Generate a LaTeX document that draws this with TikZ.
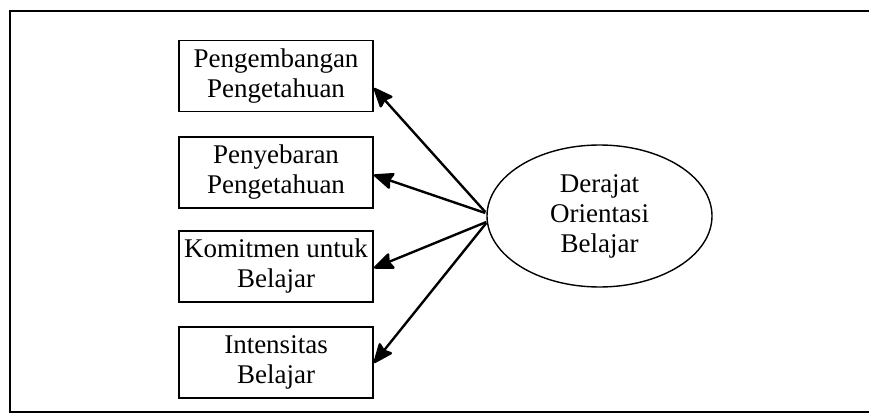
\documentclass[tikz,border=0pt]{standalone}
\usepackage{fontspec}
\setmainfont{Liberation Serif}
\usetikzlibrary{arrows.meta,calc,shapes.geometric}
\begin{document}
\begin{tikzpicture}[x=1pt,y=-1pt,
  every node/.style={font=\fontsize{27}{30}\selectfont, align=center},
  item/.style={draw, line width=1.8pt, minimum width=194pt, minimum height=71pt, inner sep=0pt},
  latent/.style={draw, ellipse, line width=1.4pt, minimum width=225pt, minimum height=142pt, inner sep=0pt},
  link/.style={line width=2.4pt, -{Stealth[length=22pt,width=18pt,inset=3pt,round=false]}},
  frame/.style={line width=1.8pt}]
  \useasboundingbox (0,0) rectangle (869,414);
  % open frame around the model
  \draw[frame] (869,11) -- (10,11) -- (10,412) -- (869,412);

  % indicator boxes
  \node[item] (b1) at (276,76)    {Pengembangan\\Pengetahuan};
  \node[item] (b2) at (276,172.5) {Penyebaran\\Pengetahuan};
  \node[item] (b3) at (276,266.5) {Komitmen untuk\\Belajar};
  \node[item] (b4) at (276,362.5) {Intensitas\\Belajar};

  % latent construct
  \node[latent] (e) at (599.5,216) {Derajat\\Orientasi\\Belajar};

  % loadings
  \draw[link] ($(e.west)+(-1,-4)$) -- ($(b1.east)+(0,12)$);
  \draw[link] ($(e.west)+(-1,-3)$) -- ($(b2.east)+(0,2.5)$);
  \draw[link] ($(e.west)+(0,6)$) -- ($(b3.east)+(0,1.5)$);
  \draw[link] ($(e.west)+(0,7)$) -- ($(b4.east)+(0,0.5)$);
\end{tikzpicture}
\end{document}
